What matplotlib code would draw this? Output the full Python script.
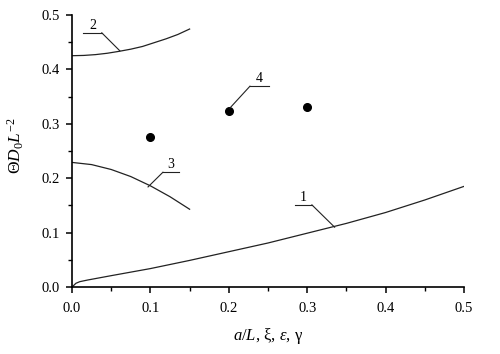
import matplotlib.pyplot as plt

plt.rcParams['font.family'] = ['Liberation Serif', 'DejaVu Serif']
plt.rcParams['mathtext.fontset'] = 'custom'
plt.rcParams['mathtext.rm'] = 'Liberation Serif'
plt.rcParams['mathtext.it'] = 'Liberation Serif:italic'

# curve 1
x1 = [0.0, 0.005, 0.01, 0.02, 0.05, 0.1, 0.15, 0.2, 0.25, 0.3, 0.35, 0.4, 0.45, 0.5]
y1 = [0.0, 0.007, 0.010, 0.013, 0.021, 0.034, 0.049, 0.065, 0.081, 0.099, 0.117, 0.137, 0.160, 0.185]
# curve 2
x2 = [0.0, 0.015, 0.03, 0.045, 0.06, 0.075, 0.09, 0.105, 0.12, 0.135, 0.15]
y2 = [0.425, 0.4255, 0.427, 0.4295, 0.433, 0.437, 0.442, 0.449, 0.456, 0.464, 0.474]
# curve 3
x3 = [0.0, 0.025, 0.05, 0.075, 0.1, 0.125, 0.15]
y3 = [0.229, 0.225, 0.216, 0.203, 0.186, 0.166, 0.143]
# points 4
x4 = [0.1, 0.2, 0.3]
y4 = [0.275, 0.324, 0.331]

# label leaders: text, shelf start, shelf end, shelf y, tip x, tip y
labels = ['1', '2', '3', '4']
shelf_x0 = [0.284, 0.014, 0.116, 0.227]
shelf_x1 = [0.306, 0.038, 0.136, 0.251]
shelf_y = [0.151, 0.467, 0.211, 0.369]
tip_x = [0.335, 0.061, 0.097, 0.2015]
tip_y = [0.110, 0.434, 0.184, 0.329]
tip_from = [1, 1, 0, 0]  # which shelf end the slanted leg starts from

fig = plt.figure(figsize=(5, 3.54), dpi=100)
ax = fig.add_axes([0.144, 0.189, 0.784, 0.769])

lc = '#222222'
ax.plot(x1, y1, color=lc, lw=0.9)
ax.plot(x2, y2, color=lc, lw=0.9)
ax.plot(x3, y3, color=lc, lw=0.9)
ax.plot(x4, y4, 'o', color='black', ms=5.5)

for i in range(len(labels)):
    ax.plot([shelf_x0[i], shelf_x1[i]], [shelf_y[i], shelf_y[i]], color=lc, lw=0.8)
    sx = shelf_x1[i] if tip_from[i] else shelf_x0[i]
    ax.plot([sx, tip_x[i]], [shelf_y[i], tip_y[i]], color=lc, lw=0.8)
    ax.text((shelf_x0[i] + shelf_x1[i]) / 2, shelf_y[i] + 0.002, labels[i],
            ha='center', va='bottom', fontsize=10)

ax.set_xlim(0, 0.5)
ax.set_ylim(0, 0.5)
ax.set_xticks([0.0, 0.1, 0.2, 0.3, 0.4, 0.5])
ax.set_yticks([0.0, 0.1, 0.2, 0.3, 0.4, 0.5])
ax.set_xticks([0.05, 0.15, 0.25, 0.35, 0.45], minor=True)
ax.set_yticks([0.05, 0.15, 0.25, 0.35, 0.45], minor=True)
ax.set_xticklabels(['0.0', '0.1', '0.2', '0.3', '0.4', '0.5'])
ax.set_yticklabels(['0.0', '0.1', '0.2', '0.3', '0.4', '0.5'])
ax.spines['top'].set_visible(False)
ax.spines['right'].set_visible(False)
ax.spines['left'].set_linewidth(1.2)
ax.spines['bottom'].set_linewidth(1.2)
ax.tick_params(which='major', direction='out', length=4.5, width=1.1, labelsize=10.5, pad=4)
ax.tick_params(which='minor', direction='out', length=3, width=1.0)
ax.tick_params(axis='x', pad=6)

ax.set_xlabel(r'$a/L$, ξ, $\varepsilon$, γ', fontsize=12, labelpad=8)
ax.set_ylabel(r'$\Theta D_0 L^{-2}$', fontsize=12.5)
ax.yaxis.set_label_coords(-0.118, 0.52)

fig.savefig('out.png', dpi=100)
